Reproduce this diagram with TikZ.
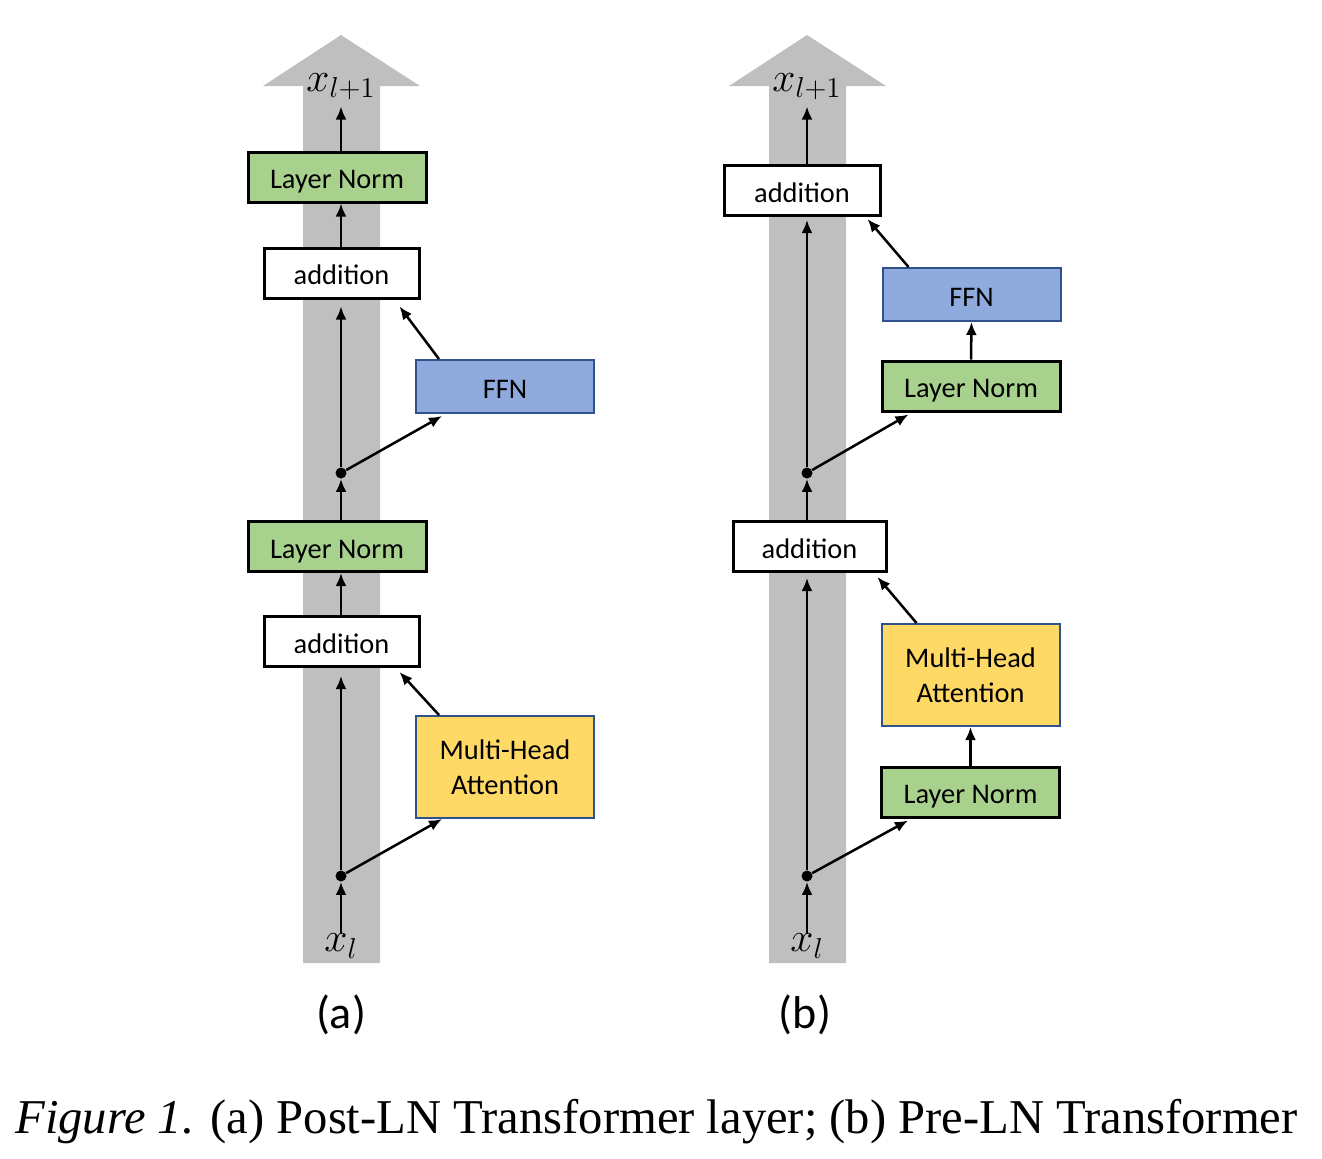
\documentclass[tikz,border=0pt]{standalone}
\usepackage{fontspec}
\setmainfont{Carlito}
\newfontfamily\capfont{Liberation Serif}
\usetikzlibrary{calc,arrows.meta}

\definecolor{lngreen}{HTML}{A9D18E}
\definecolor{ffnblue}{HTML}{8FAADC}
\definecolor{mhayellow}{HTML}{FFD966}
\definecolor{edgeblue}{HTML}{2F528F}
\definecolor{bandgray}{HTML}{BFBFBF}

\begin{document}
\begin{tikzpicture}[x=0.5pt,y=-0.5pt,>={Latex[length=6.5pt,width=5.5pt]},
    box/.style={draw=black, line width=1.5pt, minimum width=89pt, minimum height=25pt,
                inner sep=0pt, text height=11.5pt, text depth=0pt,
                font=\fontsize{14.2}{17.5}\selectfont},
    ln/.style={box, fill=lngreen},
    add/.style={box, fill=white, minimum width=77.5pt},
    ffn/.style={box, fill=ffnblue, draw=edgeblue, line width=1pt, minimum height=26.5pt},
    mha/.style={ffn, fill=mhayellow, minimum height=51pt, align=center,
                text height={}, text depth={}},
    dot/.style={circle, fill=black, inner sep=0pt, minimum size=5.5pt},
    vec/.style={inner sep=0pt, font=\fontsize{22}{26}\selectfont},
    flow/.style={->, line width=1.25pt}]
        \useasboundingbox (0,0) rectangle (1322,1158);
        % the grey residual streams
        \foreach \c in {341,807}
                \fill[bandgray] (\c-38,963) -- (\c-38,86) -- (\c-78,86) -- (\c,35)
                        -- (\c+79,86) -- (\c+39,86) -- (\c+39,963) -- cycle;

        % (a) Post-LN
        \node[ln]  (lnTopA)  at (337,177)   {Layer Norm};
        \node[add] (addTopA) at (341.5,273) {addition};
        \node[ffn] (ffnA)    at (505,386.5) {FFN};
        \node[dot] (dotTopA) at (341,473)   {};
        \node[ln]  (lnMidA)  at (337,546.5) {Layer Norm};
        \node[add] (addLowA) at (341.5,641.5) {addition};
        \node[mha] (mhaA)    at (505,767)   {Multi-Head\\Attention};
        \node[dot] (dotLowA) at (341,876)   {};
        \node[vec] (xinA)    at (341,946)   {$x_l$};
        \node[vec] (xoutA)   at (341,87)    {$x_{l+1}$};
        \node[font=\fontsize{23}{26}\selectfont] (capA) at (341,1015) {(a)};

        \draw[flow] (xinA.north) -- (dotLowA);
        \draw[flow, shorten >=4pt] (dotLowA) -- (addLowA.south -| dotLowA);
        \draw[flow] (dotLowA) -- ([xshift=13.5pt]mhaA.south west);
        \draw[flow] ([xshift=12pt]mhaA.north west) -- ([xshift=-10.5pt,yshift=-2pt]addLowA.south east);
        \draw[flow] (addLowA.north -| dotLowA) -- (lnMidA.south -| dotLowA);
        \draw[flow] (lnMidA.north -| dotTopA) -- (dotTopA);
        \draw[flow, shorten >=3.5pt] (dotTopA) -- (addTopA.south -| dotTopA);
        \draw[flow] (dotTopA) -- ([xshift=13.5pt,yshift=-1pt]ffnA.south west);
        \draw[flow] ([xshift=12pt]ffnA.north west) -- ([xshift=-10.5pt,yshift=-3.5pt]addTopA.south east);
        \draw[flow] (addTopA.north -| dotTopA) -- (lnTopA.south -| dotTopA);
        \draw[flow, shorten >=3pt] (lnTopA.north -| dotTopA) -- (xoutA.south -| dotTopA);

        % (b) Pre-LN
        \node[add, minimum width=78pt] (addTopB) at (802,190.5) {addition};
        \node[ffn] (ffnB)    at (971.5,294.5) {FFN};
        \node[ln]  (lnUpB)   at (971,386)   {Layer Norm};
        \node[dot] (dotTopB) at (807,473)   {};
        \node[add, minimum width=76.5pt] (addLowB) at (809.5,546.5) {addition};
        \node[mha] (mhaB)    at (970.5,675) {Multi-Head\\Attention};
        \node[ln]  (lnLowB)  at (970.5,792) {Layer Norm};
        \node[dot] (dotLowB) at (807,876)   {};
        \node[vec] (xinB)    at (807,946)   {$x_l$};
        \node[vec] (xoutB)   at (807,87)    {$x_{l+1}$};
        \node[font=\fontsize{23}{26}\selectfont] (capB) at (805,1015) {(b)};

        \draw[flow] (xinB.north) -- (dotLowB);
        \draw[flow, shorten >=2.5pt] (dotLowB) -- (addLowB.south -| dotLowB);
        \draw[flow] (dotLowB) -- ([xshift=14pt,yshift=-1pt]lnLowB.south west);
        \draw[flow] (lnLowB.north) -- (mhaB.south);
        \draw[flow] ([xshift=18pt]mhaB.north west) -- ([xshift=-5pt,yshift=-2pt]addLowB.south east);
        \draw[flow] (addLowB.north -| dotTopB) -- (dotTopB);
        \draw[flow, shorten >=1.5pt] (dotTopB) -- (addTopB.south -| dotTopB);
        \draw[flow] (dotTopB) -- ([xshift=14pt,yshift=-1pt]lnUpB.south west);
        \draw[flow] (lnUpB.north) -- (ffnB.south);
        \draw[flow] ([xshift=13.5pt]ffnB.north west) -- ([xshift=-7pt,yshift=-1pt]addTopB.south east);
        \draw[flow, shorten >=3pt] (addTopB.north -| dotTopB) -- (xoutB.south -| dotTopB);

        % caption
        \node[anchor=west, inner sep=0pt, font=\capfont\fontsize{24.3}{28}\selectfont] (caption) at (15,1122)
                {\textit{Figure 1.} (a) Post-LN Transformer layer; (b) Pre-LN Transformer};
\end{tikzpicture}
\end{document}
